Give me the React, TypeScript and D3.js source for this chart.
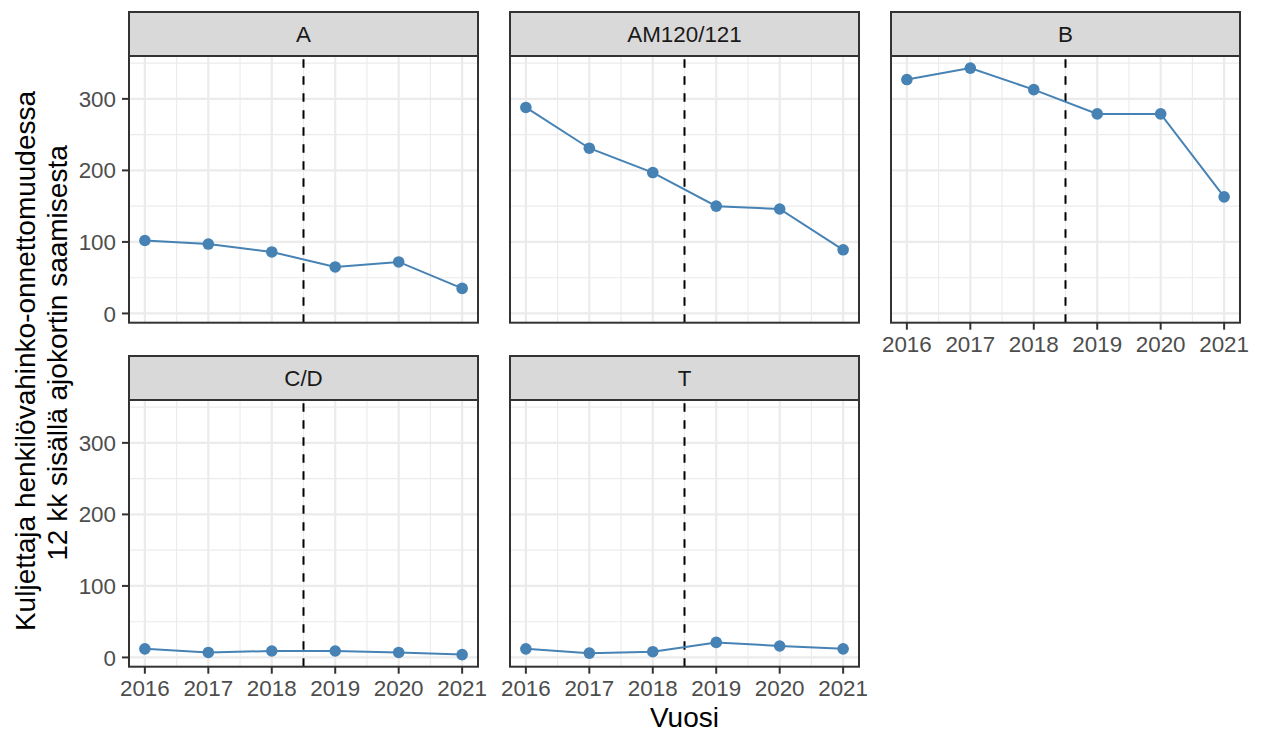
import React from "react";
import * as d3 from "d3";

const years = [2016, 2017, 2018, 2019, 2020, 2021];
const panels = ["A", "AM120/121", "B", "C/D", "T"];
const valuesA = [102, 97, 86, 65, 72, 35];
const valuesAM = [288, 231, 197, 150, 146, 89];
const valuesB = [327, 343, 313, 279, 279, 163];
const valuesCD = [12, 7, 9, 9, 7, 4];
const valuesT = [12, 6, 8, 21, 16, 12];
const yTicks = [0, 100, 200, 300];
const yMinor = [50, 150, 250, 350];
const xMinor = [2016.5, 2017.5, 2018.5, 2019.5, 2020.5];
const cutYear = 2018.5;
const yTitle1 = "Kuljettaja henkilövahinko-onnettomuudessa";
const yTitle2 = "12 kk sisällä ajokortin saamisesta";
const xTitle = "Vuosi";

const seriesList = [valuesA, valuesAM, valuesB, valuesCD, valuesT];

const W = 1261;
const H = 733;
const colLeft = [129, 510, 891];
const panelW = 349;
const rowStripTop = [12, 356];
const stripH = 44;
const panelH = 266.7;
const FONT = "'Liberation Sans', Arial, sans-serif";

export default function App() {
  const all = seriesList.flat();
  const [mn, mx] = d3.extent(all) as [number, number];
  const pad = (mx - mn) * 0.05;

  return (
    <svg width={W} height={H} style={{ position: "absolute", left: 0, top: 0 }} fontFamily={FONT}>
      <rect width={W} height={H} fill="#fff" />
      {panels.map((name, i) => {
        const col = i % 3;
        const row = Math.floor(i / 3);
        const left = colLeft[col];
        const stripTop = rowStripTop[row];
        const top = stripTop + stripH;
        const bottom = top + panelH;
        const x = d3.scaleLinear().domain([2015.75, 2021.25]).range([left, left + panelW]);
        const y = d3.scaleLinear().domain([mn - pad, mx + pad]).range([bottom, top]);
        const vals = seriesList[i];
        const pts = years.map((yr, k) => [x(yr), y(vals[k])] as [number, number]);
        const line = d3.line()(pts) || "";
        const showX = row === 1 || col === 2;
        const showY = col === 0;
        return (
          <g key={name}>
            <rect x={left} y={top} width={panelW} height={panelH} fill="#fff" />
            {yMinor.map((v) => (
              <line key={"ym" + v} x1={left} x2={left + panelW} y1={y(v)} y2={y(v)} stroke="#EBEBEB" strokeWidth={1.1} />
            ))}
            {xMinor.map((v) => (
              <line key={"xm" + v} y1={top} y2={bottom} x1={x(v)} x2={x(v)} stroke="#EBEBEB" strokeWidth={1.1} />
            ))}
            {yTicks.map((v) => (
              <line key={"yM" + v} x1={left} x2={left + panelW} y1={y(v)} y2={y(v)} stroke="#EBEBEB" strokeWidth={2.2} />
            ))}
            {years.map((v) => (
              <line key={"xM" + v} y1={top} y2={bottom} x1={x(v)} x2={x(v)} stroke="#EBEBEB" strokeWidth={2.2} />
            ))}
            <line x1={x(cutYear)} x2={x(cutYear)} y1={bottom} y2={top} stroke="#000" strokeWidth={2} strokeDasharray="8.5,8.5" />
            <path d={line} fill="none" stroke="#4682B4" strokeWidth={2} />
            {pts.map((p, k) => (
              <circle key={k} cx={p[0]} cy={p[1]} r={5.8} fill="#4682B4" />
            ))}
            <rect x={left} y={top} width={panelW} height={panelH} fill="none" stroke="#333333" strokeWidth={2} />
            <rect x={left} y={stripTop} width={panelW} height={stripH} fill="#D9D9D9" stroke="#333333" strokeWidth={2} />
            <text x={left + panelW / 2} y={stripTop + stripH / 2} dy="0.36em" textAnchor="middle" fontSize={22.4} fill="#1A1A1A">
              {name}
            </text>
            {showX &&
              years.map((v) => (
                <g key={"xt" + v}>
                  <line x1={x(v)} x2={x(v)} y1={bottom} y2={bottom + 7} stroke="#333333" strokeWidth={2} />
                  <text x={x(v)} y={bottom + 29.5} textAnchor="middle" fontSize={22.4} fill="#4D4D4D">
                    {v}
                  </text>
                </g>
              ))}
            {showY &&
              yTicks.map((v) => (
                <g key={"yt" + v}>
                  <line x1={left - 7} x2={left} y1={y(v)} y2={y(v)} stroke="#333333" strokeWidth={2} />
                  <text x={left - 13} y={y(v)} dy="0.36em" textAnchor="end" fontSize={22.4} fill="#4D4D4D">
                    {v}
                  </text>
                </g>
              ))}
          </g>
        );
      })}
      <text x={684.5} y={727} textAnchor="middle" fontSize={28} fill="#000">
        {xTitle}
      </text>
      <text transform="translate(35,361) rotate(-90)" textAnchor="middle" fontSize={28} fill="#000">
        {yTitle1}
      </text>
      <text transform="translate(66.5,353) rotate(-90)" textAnchor="middle" fontSize={28} fill="#000">
        {yTitle2}
      </text>
    </svg>
  );
}
